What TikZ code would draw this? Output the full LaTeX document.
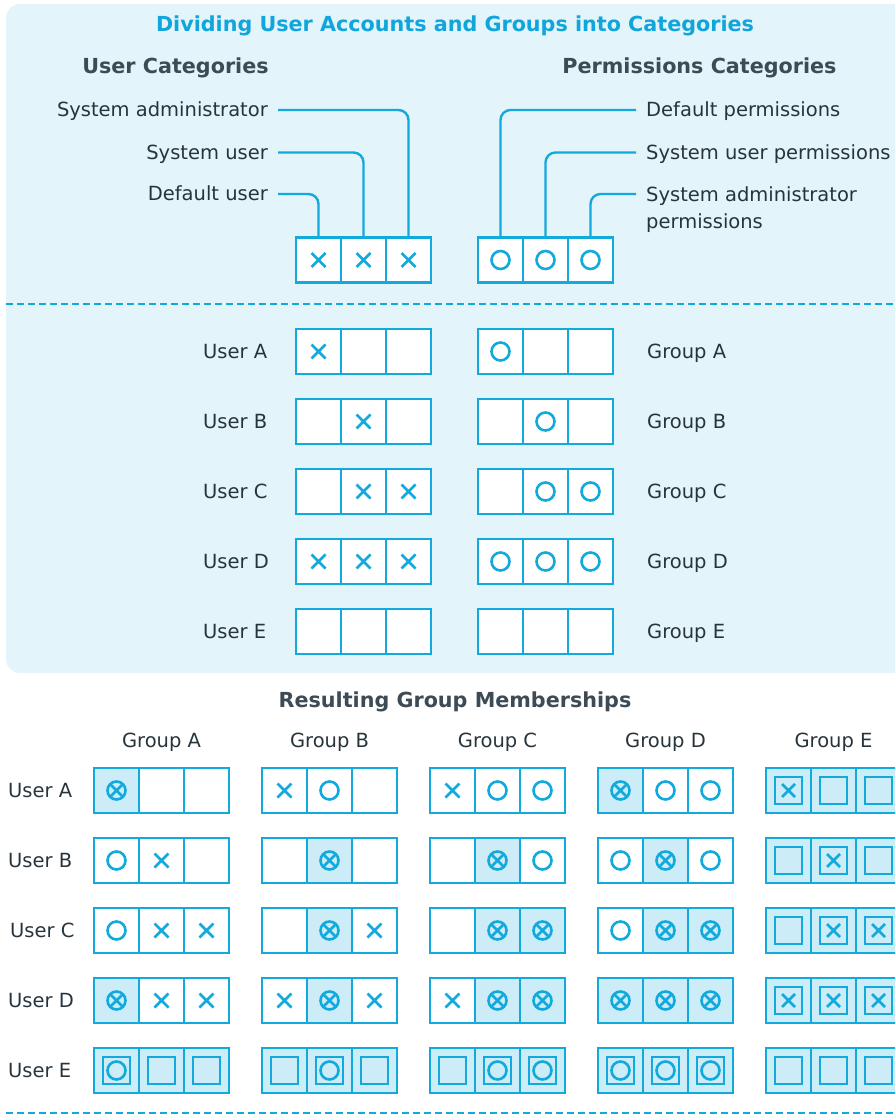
\documentclass[tikz,border=0pt]{standalone}
\usepackage{fontspec}
\setmainfont{DejaVu Sans}
\usepackage{tikz}
\usetikzlibrary{calc}

\definecolor{lineblue}{RGB}{18,170,221}
\definecolor{cellfill}{RGB}{204,236,248}
\definecolor{bgc}{RGB}{227,244,250}
\definecolor{txtc}{RGB}{40,52,60}
\definecolor{headc}{RGB}{60,75,85}
\definecolor{titlec}{RGB}{16,166,220}

% marks drawn inside a cell
\newcommand\ppcross[1]{\draw[symb] ([shift={(-#1,-#1)}]path picture bounding box.center) -- ([shift={(#1,#1)}]path picture bounding box.center)
    ([shift={(-#1,#1)}]path picture bounding box.center) -- ([shift={(#1,-#1)}]path picture bounding box.center);}
\newcommand\ppcircle{\draw[symb] (path picture bounding box.center) circle[radius=9pt];}
\newcommand\ppsquare{\draw[symb] ([shift={(-13.5pt,-13.5pt)}]path picture bounding box.center) rectangle ([shift={(13.5pt,13.5pt)}]path picture bounding box.center);}

\tikzset{
    txt/.style={text=txtc, font=\fontsize{19.5}{27}\selectfont, inner sep=0pt},
    lbl/.style={txt, text height=14pt, text depth=0pt},
    tag/.style={lbl, inner xsep=10pt},
    head/.style={text=headc, font=\bfseries\fontsize{20.7}{25}\selectfont, inner sep=0pt, anchor=base},
    title/.style={head, text=titlec},
    conn/.style={draw=lineblue, line width=2.4pt, rounded corners=10pt},
    sepline/.style={draw=lineblue, line width=2pt, dash pattern=on 7pt off 4pt},
    symb/.style={draw=lineblue, line width=2.6pt},
    cell/.style={draw=lineblue, line width=2.8pt, fill=white, minimum size=45pt, inner sep=0pt},
    cn/.style={cell},
    cx/.style={cell, path picture={\ppcross{7pt}}},
    co/.style={cell, path picture={\ppcircle}},
    cb/.style={cell, fill=cellfill, path picture={\ppcircle\ppcross{6.4pt}}},
    cs/.style={cell, fill=cellfill, path picture={\ppsquare}},
    csx/.style={cell, fill=cellfill, path picture={\ppsquare\ppcross{6.5pt}}},
    cso/.style={cell, fill=cellfill, path picture={\ppsquare\ppcircle}}
}

\begin{document}
\begin{tikzpicture}[x=1pt, y=-1pt]
            \useasboundingbox (0,0) rectangle (895,1115);
            \clip (0,0) rectangle (895,1115);
            \fill[bgc, rounded corners=14pt] (6,4) rectangle (940,673);
            \draw[sepline] (6,304) -- (940,304);
            \draw[sepline] (6,1113) -- (940,1113);

            \node[title] (title) at (455,32) {Dividing User Accounts and Groups into Categories};
            \node[head] (hu) at (175.5,74) {User Categories};
            \node[head] (hp) at (699.5,74) {Permissions Categories};

            % categories
            \foreach \k [count=\i] in {cx,cx,cx}
                \node[\k] (uc\i) at (273.5+45*\i,260) {};
            \foreach \k [count=\i] in {co,co,co}
                \node[\k] (pc\i) at (455.5+45*\i,260) {};

            \node[tag, anchor=east] (lsa) at (278,110) {System administrator};
            \node[tag, anchor=east] (lsu) at (278,152.5) {System user};
            \node[tag, anchor=east] (ldu) at (278,194) {Default user};
            \draw[conn] (lsa.east) -| (uc3.north);
            \draw[conn] (lsu.east) -| (uc2.north);
            \draw[conn] (ldu.east) -| (uc1.north);

            \node[tag, anchor=west] (rdp) at (636,110) {Default permissions};
            \node[tag, anchor=west] (rsp) at (636,152.5) {System user permissions};
            \node[txt, inner xsep=10pt, anchor=north west, align=left] (rsa) at (636,186.7) {System administrator\\permissions};
            \draw[conn] (rdp.west) -| (pc1.north);
            \draw[conn] (rsp.west) -| (pc2.north);
            \draw[conn] ([yshift=-7.3pt]rsa.north west) -| (pc3.north);

            % users and groups
            \foreach \n/\y/\ua/\ub/\uc/\pa/\pb/\pc in {A/351.5/cx/cn/cn/co/cn/cn, B/421.5/cn/cx/cn/cn/co/cn,
                C/491.5/cn/cx/cx/cn/co/co, D/561.5/cx/cx/cx/co/co/co, E/631.5/cn/cn/cn/cn/cn/cn} {
                \node[lbl, anchor=west] (u\n) at (203,\y) {User \n};
                \foreach \k [count=\i] in {\ua,\ub,\uc}
                    \node[\k] (u\n-\i) at (273.5+45*\i,\y) {};
                \foreach \k [count=\i] in {\pa,\pb,\pc}
                    \node[\k] (g\n-\i) at (455.5+45*\i,\y) {};
                \node[lbl, anchor=west] (g\n) at (647,\y) {Group \n};
            }

            % resulting memberships
            \node[head] (hr) at (455,707) {Resulting Group Memberships};
            \foreach \g/\n in {0/A,1/B,2/C,3/D,4/E}
                \node[lbl] (rg\n) at (161.5+168*\g,740) {Group \n};

            \node[lbl, anchor=west] (rA) at (8,790.5) {User A};
            \foreach \g/\a/\b/\c in {0/cb/cn/cn, 1/cx/co/cn, 2/cx/co/co, 3/cb/co/co, 4/csx/cs/cs}
                \foreach \k [count=\i] in {\a,\b,\c}
                    \node[\k] (rA-\g-\i) at (71.5+168*\g+45*\i,790.5) {};

            \node[lbl, anchor=west] (rB) at (8,860.5) {User B};
            \foreach \g/\a/\b/\c in {0/co/cx/cn, 1/cn/cb/cn, 2/cn/cb/co, 3/co/cb/co, 4/cs/csx/cs}
                \foreach \k [count=\i] in {\a,\b,\c}
                    \node[\k] (rB-\g-\i) at (71.5+168*\g+45*\i,860.5) {};

            \node[lbl, anchor=west] (rC) at (10,930.5) {User C};
            \foreach \g/\a/\b/\c in {0/co/cx/cx, 1/cn/cb/cx, 2/cn/cb/cb, 3/co/cb/cb, 4/cs/csx/csx}
                \foreach \k [count=\i] in {\a,\b,\c}
                    \node[\k] (rC-\g-\i) at (71.5+168*\g+45*\i,930.5) {};

            \node[lbl, anchor=west] (rD) at (8,1000.5) {User D};
            \foreach \g/\a/\b/\c in {0/cb/cx/cx, 1/cx/cb/cx, 2/cx/cb/cb, 3/cb/cb/cb, 4/csx/csx/csx}
                \foreach \k [count=\i] in {\a,\b,\c}
                    \node[\k] (rD-\g-\i) at (71.5+168*\g+45*\i,1000.5) {};

            \node[lbl, anchor=west] (rE) at (8,1070.5) {User E};
            \foreach \g/\a/\b/\c in {0/cso/cs/cs, 1/cs/cso/cs, 2/cs/cso/cso, 3/cso/cso/cso, 4/cs/cs/cs}
                \foreach \k [count=\i] in {\a,\b,\c}
                    \node[\k] (rE-\g-\i) at (71.5+168*\g+45*\i,1070.5) {};
\end{tikzpicture}
\end{document}
